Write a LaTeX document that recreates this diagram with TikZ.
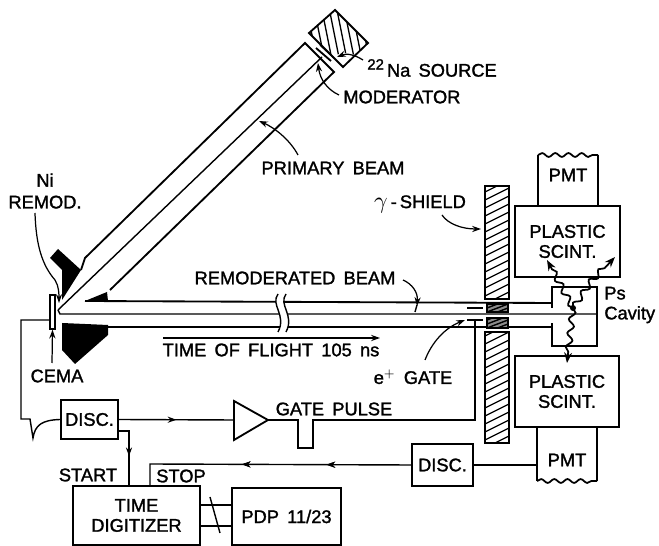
\documentclass[tikz,border=0pt]{standalone}
\usepackage{fontspec}
\setmainfont[FakeBold=1.5]{Liberation Sans}
\usetikzlibrary{arrows.meta, calc, decorations.pathmorphing, decorations.markings}

\newcommand{\lblfont}{\fontsize{10.4}{11.4}\selectfont\spaceskip 0.45em\relax}

\tikzset{
    wall/.style = {line width=1.05pt},
    wire/.style = {line width=0.8pt},
    lbl/.style = {inner sep=0pt, font=\lblfont, align=center},
    boxnode/.style = {draw, line width=1.05pt, inner sep=0pt, lbl},
    hatchline/.style = {line width=0.75pt},
    leader/.style = {line width=0.7pt, -{Stealth[length=5pt,width=3.5pt]}},
    wave/.style = {line width=1pt, decorate, decoration={snake, amplitude=1.1pt, segment length=7.5pt}},
    gamma/.style = {line width=1pt, -{Stealth[length=6pt,width=4.5pt]}, decorate, decoration={snake, amplitude=1.7pt, segment length=8pt, post length=5pt}},
    midtip/.style = {postaction={decorate}, decoration={markings, mark=at position #1 with {\arrow{Stealth[length=5pt,width=3.5pt]}}}},
}

\begin{document}
\begin{tikzpicture}[x=0.02cm, y=-0.02cm]
    \useasboundingbox (0,0) rectangle (659,546);

    % source and moderator
    \coordinate (srctop) at (335,10);
    \coordinate (srcright) at (368,43);
    \coordinate (srcbot) at (343,67);
    \coordinate (srcleft) at (309,33);
    \begin{scope}
        \clip (srctop) -- (srcright) -- (355,55) .. controls (348,52) and (340,52) .. (333,57) -- (srcleft) -- cycle;
        \foreach \xx in {290,297.5,...,390} \draw[hatchline] (\xx,0) -- (\xx+16,80);
    \end{scope}
    \draw[wall] (srctop) -- (srcright) -- (srcbot) -- (srcleft) -- cycle;
    \draw[wall] (316,48) -- (331,61);
    \draw[wire] (320,45) -- (334,58);

    % primary tube
    \coordinate (tubea) at (305,43);
    \coordinate (tubeb) at (334,72);
    \coordinate (beamend) at (58,310);
    \draw[wall] (81,270) -- (85,258) -- (tubea) -- (tubeb) -- (110,290);
    \draw[wire] (322,57) -- (beamend);
    \fill (50,258) -- (58,249) -- (81,270) -- (62,300) -- (62,270) -- cycle;
    \fill (85,301) -- (107,292) -- (108,301) -- cycle;
    \fill (62,323) -- (108,325) -- (108,335) -- (75,364) -- (62,350) -- cycle;

    % horizontal tube
    \coordinate (walla) at (85,301);
    \coordinate (wallb) at (108,327);
    \coordinate (cava) at (552,303);
    \coordinate (cavb) at (552,327);
    \coordinate (cavc) at (597,314);
    \draw[wall] (walla) -- (cava);
    \draw[wall] (wallb) -- (cavb);
    \draw[wire] (beamend) -- (60,314) -- (cavc);
    \fill[white] (278,294) .. controls (270,305) and (287,315) .. (278,332) -- (286,332) .. controls (295,315) and (278,305) .. (286,294) -- cycle;
    \draw[wire] (278,294) .. controls (270,305) and (287,315) .. (278,332);
    \draw[wire] (286,294) .. controls (278,305) and (295,315) .. (286,332);

    % CEMA
    \node[draw, line width=0.8pt, fill=white, minimum width=0.1cm, minimum height=0.68cm, inner sep=0pt] (cema) at (52.5,312) {};
    \node[lbl] (cemalabel) at (57,376) {CEMA};
    \draw[leader] (52,363) -- (cema.south);

    % shield
    \foreach \ytop/\ybot in {186/299, 332/443} {
        \begin{scope}
            \clip (485,\ytop) rectangle (509,\ybot);
            \foreach \yy in {180,188,...,460} \draw[hatchline] (485,\yy+12) -- (509,\yy);
        \end{scope}
        \draw[wall] (485,\ytop) rectangle (509,\ybot);
    }
    \fill[black!45] (487,304) rectangle (508,312);
    \fill[black!45] (487,318) rectangle (508,328);
    \foreach \ytop/\ybot in {304/312, 318/328} {
        \begin{scope}
            \clip (487,\ytop) rectangle (508,\ybot);
            \foreach \yy in {296,300,...,336} \draw[wire] (487,\yy+8) -- (508,\yy);
        \end{scope}
        \draw[wire] (487,\ytop) rectangle (508,\ybot);
    }

    % gate plates
    \draw[wall] (467,308) -- (483,308);
    \draw[wall] (467,320) -- (483,320);

    % cavity
    \draw[wall] (552,308) -- (552,287) -- (597,287) -- (597,346) -- (552,346) -- (552,323);

    % scintillators and PMTs
    \node[boxnode, fill=white, minimum width=2.1cm, minimum height=1.42cm] (scinttop) at (567.5,241.5) {PLASTIC\\SCINT.};
    \node[boxnode, fill=white, minimum width=2.08cm, minimum height=1.42cm] (scintbot) at (567,391.5) {PLASTIC\\SCINT.};
    \coordinate (pmttopa) at (538,155);
    \coordinate (pmttopb) at (598,155);
    \coordinate (pmtbota) at (537,481);
    \coordinate (pmtbotb) at (597,481);
    \draw[wall] (pmttopa |- scinttop.north) -- (pmttopa);
    \draw[wall] (pmttopb |- scinttop.north) -- (pmttopb);
    \draw[wave] (pmttopa) -- (pmttopb);
    \draw[wall] (pmtbota |- scintbot.south) -- (pmtbota);
    \draw[wall] (pmtbotb |- scintbot.south) -- (pmtbotb);
    \draw[wave] (pmtbota) -- (pmtbotb);
    \node[lbl] (pmttop) at (568,175) {PMT};
    \node[lbl] (pmtbot) at (567,460) {PMT};

    % annihilation quanta
    \coordinate (decay) at (573,308);
    \fill (decay) circle (3);
    \draw[gamma] (decay) -- (547,260);
    \draw[gamma] (decay) -- (588,286) -- (615,257);
    \draw[gamma] (decay) -- (567,363);

    % electronics
    \node[boxnode, minimum width=1.14cm, minimum height=0.78cm] (discstart) at (89.5,419.5) {DISC.};
    \node[boxnode, minimum width=1.22cm, minimum height=0.84cm] (discstop) at (442.5,465) {DISC.};
    \node[boxnode, minimum width=2.54cm, minimum height=1.18cm] (digitizer) at (136.5,515.5) {TIME\\DIGITIZER};
    \node[boxnode, minimum width=2.18cm, minimum height=1.14cm] (pdp) at (286.5,516.5) {PDP 11/23};

    \coordinate (cemawire) at (21,320);
    \draw[wire] (discstart.west) .. controls (42,420) and (35,425) .. (33,438) -- (30,419) -- (21,419) -- (cemawire) -- (cemawire -| cema.west);

    \coordinate (ampin) at (234,420);
    \coordinate (ampout) at (268,420);
    \draw[wall] (234,401) -- (ampout) -- (234,440) -- cycle;
    \draw[wire, midtip=0.5] (discstart.east) -- (ampin);
    \coordinate (gatewire) at (475,420);
    \draw[wire] (ampout) -- (298,420) -- (298,448) -- (313,448) -- (313,420) -- (gatewire) -- (475,320);

    \coordinate (startwire) at (129,431);
    \draw[wire, midtip=0.55] (discstart.east |- startwire) -- (startwire) -- (startwire |- digitizer.north);
    \coordinate (stopwire) at (150,464);
    \draw[wire, midtip=0.3, midtip=0.6] (discstop.west) -- (stopwire) -- (stopwire |- digitizer.north);
    \draw[wire] (discstop.east) -- (pmtbota |- discstop.east);

    \draw[wire] (digitizer.east |- 0,505) -- (pdp.west |- 0,505);
    \draw[wire] (digitizer.east |- 0,526) -- (pdp.west |- 0,526);
    \draw[wire] (210,497) -- (220,533);

    % labels
    \node[lbl, anchor=west] (srclabel) at (367,68) {\raisebox{4pt}{\fontsize{8.5}{8.5}\selectfont 22}\,Na SOURCE};
    \node[lbl, anchor=west] (modlabel) at (343,97) {MODERATOR};
    \node[lbl] (primlabel) at (333,168) {PRIMARY BEAM};
    \node[lbl] (remlabel) at (295,278) {REMODERATED BEAM};
    \node[lbl] (toflabel) at (271,350) {TIME OF FLIGHT 105 ns};
    \node[lbl] (gatelabel) at (413,377) {e$^+$ GATE};
    \node[lbl] (shieldlabel) at (420,204) {\scalebox{1.35}{$\gamma$}\,-\,SHIELD};
    \node[lbl] (nilabel) at (45,191) {Ni\\[1pt]REMOD.};
    \node[lbl, align=left, anchor=west] (pslabel) at (604,305) {Ps\\Cavity};
    \node[lbl] (pulselabel) at (334,409) {GATE PULSE};
    \node[lbl] (startlabel) at (88,475) {START};
    \node[lbl] (stoplabel) at (181,476) {STOP};

    % leaders
    \draw[leader] (363,60) .. controls (355,55) and (347,53) .. (337,57);
    \draw[leader] (339,95) .. controls (328,90) and (320,80) .. (318,63);
    \draw[leader] (298,155) .. controls (290,140) and (275,128) .. (259,121);
    \draw[leader] (403,280) .. controls (412,284) and (418,292) .. (417,306);
    \draw[wire] (417,305) -- (415,312);
    \draw[leader] (425,360) .. controls (432,342) and (445,328) .. (465,320);
    \draw[leader] (442,215) .. controls (448,224) and (462,229) .. (481,229);
    \draw[leader] (35,213) .. controls (36,245) and (42,265) .. (55,280) .. controls (59,286) and (59,295) .. (59,303);
    \draw[wire, -{Stealth[length=5pt,width=3.5pt]}] (163,338) -- (380,338);
\end{tikzpicture}
\end{document}
